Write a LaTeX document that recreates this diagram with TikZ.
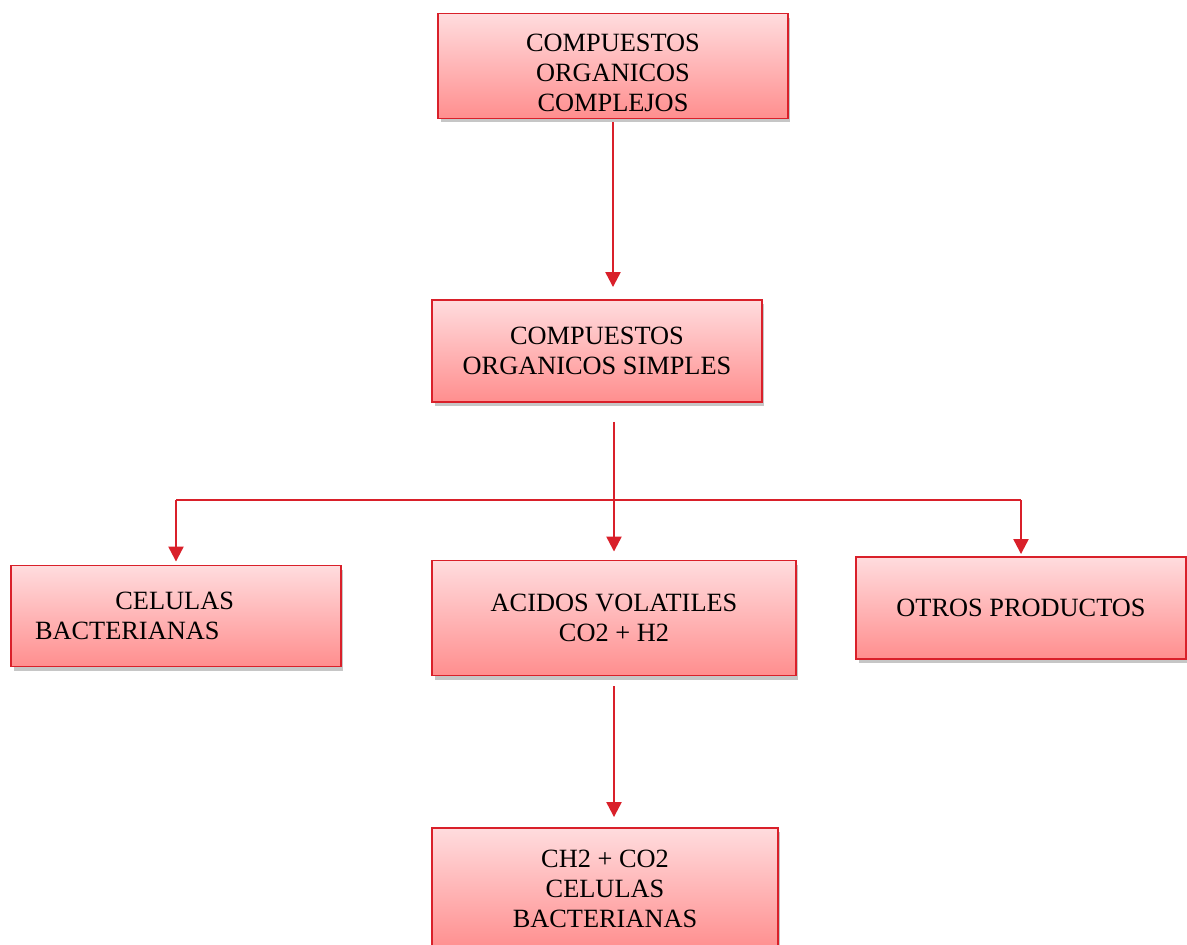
\documentclass[tikz,border=0pt]{standalone}
\usepackage{fontspec}
\setmainfont{Liberation Serif}
\usetikzlibrary{arrows.meta,shadows}

\definecolor{rojo}{HTML}{D9202A}
\definecolor{rosaclaro}{HTML}{FFDCDE}
\definecolor{rosaoscuro}{HTML}{FF8E8E}

\tikzset{
	caja/.style={draw=rojo, line width=1.1pt, top color=rosaclaro, bottom color=rosaoscuro,
		drop shadow={shadow xshift=0.05cm, shadow yshift=-0.08cm, opacity=0.45},
		align=center, font=\fontsize{15}{17}\selectfont, inner sep=0pt},
	linea/.style={draw=rojo, line width=1.3pt},
	flecha/.style={linea, -{Triangle[length=0.3cm, width=0.3cm]}}
}

\begin{document}
\begin{tikzpicture}[x=0.02cm, y=-0.02cm]
	\useasboundingbox (0,0) rectangle (1187,944);

	%cajas
	\node[caja, minimum width=7cm, minimum height=2.1cm] (complejos) at (613,66)
		{\rule{0pt}{0.63cm}COMPUESTOS\\ORGANICOS\\COMPLEJOS};
	\node[caja, minimum width=6.6cm, minimum height=2.04cm] (simples) at (597,351)
		{COMPUESTOS\\ORGANICOS SIMPLES};
	\node[caja, minimum width=6.6cm, minimum height=2.02cm, align=left, text width=5.64cm] (celulas) at (176,616)
		{\hspace*{3.05em}CELULAS\\BACTERIANAS};
	\node[caja, minimum width=7.28cm, minimum height=2.3cm] (acidos) at (614,618)
		{ACIDOS VOLATILES\\CO2 + H2};
	\node[caja, minimum width=6.6cm, minimum height=2.04cm] (otros) at (1021,608)
		{OTROS PRODUCTOS};
	\node[caja, minimum width=6.92cm, minimum height=2.44cm] (final) at (605,889)
		{CH2 + CO2\\CELULAS\\BACTERIANAS};

	%flechas
	\draw[flecha, shorten <=0.06cm, shorten >=0.24cm] (complejos.south) -- (complejos.south |- simples.north);
	\coordinate (rama) at (609,500);
	\draw[flecha, shorten <=0.38cm, shorten >=0.16cm] (acidos.north |- simples.south) -- (acidos.north);
	\draw[linea] (celulas.north |- rama) -- (otros.north |- rama);
	\draw[flecha, shorten >=0.06cm] (celulas.north |- rama) -- (celulas.north);
	\draw[flecha, shorten >=0.04cm] (otros.north |- rama) -- (otros.north);
	\draw[flecha, shorten <=0.2cm, shorten >=0.2cm] (acidos.south) -- (acidos.south |- final.north);
\end{tikzpicture}
\end{document}
